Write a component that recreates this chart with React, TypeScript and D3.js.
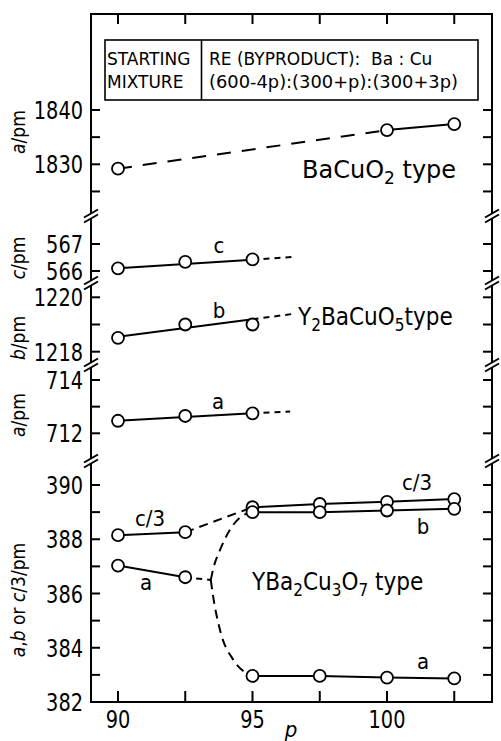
import * as d3 from "d3";

// composition p (x axis)
const pTicks = [90, 92.5, 95, 97.5, 100, 102.5];
const pLabels = [90, 95, 100];

// BaCuO2 type, a/pm
const baP = [90, 100, 102.5];
const baA = [1829.2, 1836.3, 1837.4];

// Y2BaCuO5 type
const y2P = [90, 92.5, 95];
const y2C = [566.1, 566.34, 566.43];
const y2B = [1218.51, 1219.0, 1219.0];
const y2A = [712.47, 712.65, 712.75];
// fitted lines [p, value]: solid part, dashed extension
const y2CFit = [[90, 566.1], [95, 566.42]];
const y2CExt = [[95, 566.42], [96.5, 566.52]];
const y2BFit = [[90, 1218.55], [95, 1219.19]];
const y2BExt = [[95, 1219.19], [96.5, 1219.39]];
const y2AFit = [[90, 712.47], [95, 712.75]];
const y2AExt = [[95, 712.75], [96.4, 712.82]];

// YBa2Cu3O7 type
const ybP = [90, 92.5, 95, 97.5, 100, 102.5];
const ybC3 = [388.15, 388.26, 389.18, 389.3, 389.38, 389.48];
const ybB = [null, null, 389.0, 389.0, 389.06, 389.12];
const ybA = [387.03, 386.6, 382.96, 382.96, 382.9, 382.87];
// dashed transition curves
const aToBranch = [[92.5, 386.6], [93.45, 386.5]];
const branchUp = [[93.45, 386.5], [93.55, 386.95], [93.79, 387.6], [94.16, 388.35], [94.6, 388.85], [95, 389.0]];
const branchDown = [[93.45, 386.5], [93.52, 386.0], [93.79, 384.66], [94.29, 383.55], [94.78, 383.06], [95, 382.96]];

const W = 501, H = 741;
const left = 91, right = 492, top = 14, bottom = 702;
const breaks = [216, 283, 365, 461];
const font = "'DejaVu Sans Condensed', sans-serif";
const wide = "'DejaVu Sans', sans-serif";

const x = d3.scaleLinear().domain([90, 100]).range([118, 387]);

const panels = [
  { y: d3.scaleLinear().domain([1830, 1840]).range([164.3, 110]), ticks: [1825, 1830, 1835, 1840], labels: [1830, 1840], title: "a", tY: 132 },
  { y: d3.scaleLinear().domain([566, 567]).range([271, 244]), ticks: [566, 567], labels: [566, 567], title: "c", tY: 258 },
  { y: d3.scaleLinear().domain([1218, 1220]).range([351.7, 297.3]), ticks: [1218, 1219, 1220], labels: [1218, 1220], title: "b", tY: 338 },
  { y: d3.scaleLinear().domain([712, 714]).range([433.3, 380]), ticks: [712, 713, 714], labels: [712, 714], title: "a", tY: 415 },
  { y: d3.scaleLinear().domain([382, 390]).range([702, 485]), ticks: d3.range(382, 391), labels: [382, 384, 386, 388, 390], title: null, tY: 600 },
];
const [pBa, pC, pB, pA, pYb] = panels;

const lineOf = (sy: d3.ScaleLinear<number, number>, curve: d3.CurveFactory = d3.curveLinear) =>
  d3.line<number[]>().x(d => x(d[0])).y(d => sy(d[1])).curve(curve);

const pairs = (ps: number[], vs: (number | null)[]) =>
  ps.map((p, i) => [p, vs[i]]).filter(d => d[1] != null) as number[][];

function Circles({ ps, vs, sy }: { ps: number[]; vs: (number | null)[]; sy: d3.ScaleLinear<number, number> }) {
  return (
    <g>
      {pairs(ps, vs).map((d, i) => (
        <circle key={i} cx={x(d[0])} cy={sy(d[1])} r={6} fill="#fff" stroke="#000" strokeWidth={1.8} />
      ))}
    </g>
  );
}

export default function App() {
  const solid = { fill: "none", stroke: "#000", strokeWidth: 2 };
  const longDash = { ...solid, strokeDasharray: "14,11" };
  const dashed = { ...solid, strokeDasharray: "9,6" };
  const shortDash = { ...solid, strokeDasharray: "6,5" };
  const txt = { fontFamily: font, fill: "#000" } as const;
  const box = { fontFamily: wide, fill: "#000", fontSize: 17 } as const;

  return (
    <svg width={W} height={H} style={{ position: "absolute", left: 0, top: 0, background: "#fff" }}>
      {/* frame */}
      <rect x={left} y={top} width={right - left} height={bottom - top} fill="none" stroke="#000" strokeWidth={2} />

      {/* x ticks, top and bottom */}
      {pTicks.map(t => (
        <g key={t}>
          <line x1={x(t)} x2={x(t)} y1={top} y2={top + 10} stroke="#000" strokeWidth={2} />
          <line x1={x(t)} x2={x(t)} y1={bottom} y2={bottom - 11} stroke="#000" strokeWidth={2} />
        </g>
      ))}
      {pLabels.map(t => (
        <text key={t} transform={`translate(${x(t)},728) scale(0.86,1)`} textAnchor="middle" fontSize={25} {...txt}>{t}</text>
      ))}
      <text x={291} y={737} textAnchor="middle" fontSize={22} fontStyle="italic" {...txt}>p</text>

      {/* y ticks for each panel, both sides */}
      {panels.map((pn, k) => (
        <g key={k}>
          {pn.ticks.map(t => (
            <g key={t}>
              <line x1={left} x2={left + 9} y1={pn.y(t)} y2={pn.y(t)} stroke="#000" strokeWidth={2} />
              <line x1={right} x2={right - 9} y1={pn.y(t)} y2={pn.y(t)} stroke="#000" strokeWidth={2} />
            </g>
          ))}
          {pn.labels.map(t => (
            <text key={t} transform={`translate(83,${pn.y(t)}) scale(0.86,1)`} dy="0.36em" textAnchor="end" fontSize={25} {...txt}>{t}</text>
          ))}
          {pn.title && (
            <text transform={`translate(25,${pn.tY}) rotate(-90)`} textAnchor="middle" fontSize={19} {...txt}>
              <tspan fontStyle="italic">{pn.title}</tspan>/pm
            </text>
          )}
        </g>
      ))}
      <text transform={`translate(25,${pYb.tY}) rotate(-90)`} textAnchor="middle" fontSize={19} {...txt}>
        <tspan fontStyle="italic">a</tspan>,<tspan fontStyle="italic">b</tspan> or <tspan fontStyle="italic">c</tspan>/3/pm
      </text>

      {/* axis breaks */}
      {breaks.map(b => [left, right].map(ax => (
        <g key={`${b}-${ax}`}>
          <polygon points={`${ax - 7},${b + 1.5} ${ax + 7},${b - 6.5} ${ax + 7},${b - 1.5} ${ax - 7},${b + 6.5}`} fill="#fff" />
          <line x1={ax - 7} y1={b + 1.5} x2={ax + 7} y2={b - 6.5} stroke="#000" strokeWidth={2} />
          <line x1={ax - 7} y1={b + 6.5} x2={ax + 7} y2={b - 1.5} stroke="#000" strokeWidth={2} />
        </g>
      )))}

      {/* legend box */}
      <rect x={105} y={40} width={373} height={60} fill="#fff" stroke="#000" strokeWidth={1.6} />
      <line x1={201.5} x2={201.5} y1={40} y2={100} stroke="#000" strokeWidth={1.6} />
      <text x={107} y={65} {...box}>STARTING</text>
      <text x={107} y={88} {...box}>MIXTURE</text>
      <text x={209} y={65} {...box} xmlSpace="preserve">RE (BYPRODUCT):  Ba : Cu</text>
      <text x={209} y={88} {...box} textLength={249} lengthAdjust="spacingAndGlyphs">(600-4p):(300+p):(300+3p)</text>

      {/* BaCuO2 type */}
      <path d={lineOf(pBa.y)(pairs(baP, baA).slice(0, 2)) || ""} {...longDash} />
      <path d={lineOf(pBa.y)(pairs(baP, baA).slice(1)) || ""} {...solid} />
      <Circles ps={baP} vs={baA} sy={pBa.y} />
      <text x={302} y={178} fontSize={24} fontFamily={wide}>BaCuO<tspan dy={6} fontSize={17}>2</tspan><tspan dy={-6}> type</tspan></text>

      {/* Y2BaCuO5 type */}
      <path d={lineOf(pC.y)(y2CFit) || ""} {...solid} />
      <path d={lineOf(pC.y)(y2CExt) || ""} {...shortDash} />
      <Circles ps={y2P} vs={y2C} sy={pC.y} />
      <text x={219} y={253} textAnchor="middle" fontSize={22} {...txt}>c</text>

      <path d={lineOf(pB.y)(y2BFit) || ""} {...solid} />
      <path d={lineOf(pB.y)(y2BExt) || ""} {...shortDash} />
      <Circles ps={y2P} vs={y2B} sy={pB.y} />
      <text x={219} y={318} textAnchor="middle" fontSize={22} {...txt}>b</text>
      <text x={298} y={325} fontSize={24} {...txt}>Y<tspan dy={6} fontSize={17}>2</tspan><tspan dy={-6}>BaCuO</tspan><tspan dy={6} fontSize={17}>5</tspan><tspan dy={-6}>type</tspan></text>

      <path d={lineOf(pA.y)(y2AFit) || ""} {...solid} />
      <path d={lineOf(pA.y)(y2AExt) || ""} {...shortDash} />
      <Circles ps={y2P} vs={y2A} sy={pA.y} />
      <text x={218} y={409} textAnchor="middle" fontSize={22} {...txt}>a</text>

      {/* YBa2Cu3O7 type */}
      <path d={lineOf(pYb.y)(pairs(ybP, ybC3).slice(0, 2)) || ""} {...solid} />
      <path d={lineOf(pYb.y)(pairs(ybP, ybC3).slice(1, 3)) || ""} {...dashed} />
      <path d={lineOf(pYb.y)(pairs(ybP, ybC3).slice(2)) || ""} {...solid} />
      <path d={lineOf(pYb.y)(pairs(ybP, ybB)) || ""} {...solid} />
      <path d={lineOf(pYb.y)(pairs(ybP, ybA).slice(0, 2)) || ""} {...solid} />
      <path d={lineOf(pYb.y)(aToBranch) || ""} {...shortDash} />
      <path d={lineOf(pYb.y, d3.curveMonotoneX)(branchUp) || ""} {...dashed} />
      <path d={lineOf(pYb.y, d3.curveMonotoneX)(branchDown) || ""} {...dashed} />
      <path d={lineOf(pYb.y)(pairs(ybP, ybA).slice(2)) || ""} {...solid} />
      <Circles ps={ybP} vs={ybC3} sy={pYb.y} />
      <Circles ps={ybP} vs={ybB} sy={pYb.y} />
      <Circles ps={ybP} vs={ybA} sy={pYb.y} />
      <text x={150} y={526} textAnchor="middle" fontSize={22} {...txt}>c/3</text>
      <text x={146} y={590} textAnchor="middle" fontSize={22} {...txt}>a</text>
      <text x={417} y={490} textAnchor="middle" fontSize={22} {...txt}>c/3</text>
      <text x={423} y={534} textAnchor="middle" fontSize={22} {...txt}>b</text>
      <text x={423} y={669} textAnchor="middle" fontSize={22} {...txt}>a</text>
      <text x={252} y={590} fontSize={24} {...txt}>YBa<tspan dy={6} fontSize={17}>2</tspan><tspan dy={-6}>Cu</tspan><tspan dy={6} fontSize={17}>3</tspan><tspan dy={-6}>O</tspan><tspan dy={6} fontSize={17}>7</tspan><tspan dy={-6}> type</tspan></text>
    </svg>
  );
}
